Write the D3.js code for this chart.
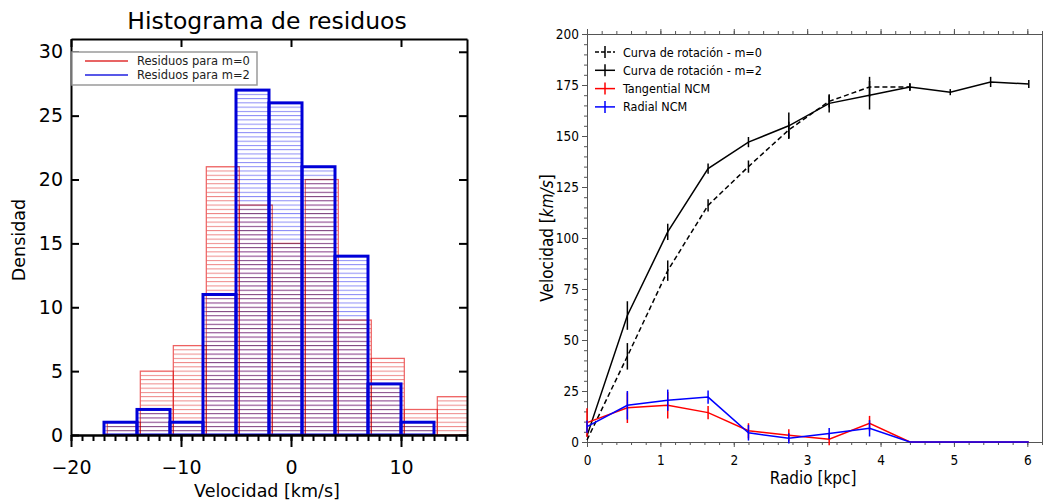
<!DOCTYPE html>
<html>
<head>
<meta charset="utf-8">
<script src="https://cdn.jsdelivr.net/npm/d3@7"></script>
<style>
body { margin: 0; background: #fff; }
</style>
</head>
<body>
<div id="chart"></div>
<script>
// --- histograma de residuos (izquierda) ---
var binLeftM0 = [-16.7, -13.7, -10.7, -7.7, -4.7, -1.7, 1.3, 4.3, 7.3, 10.3, 13.3];
var countM0 = [1, 5, 7, 21, 18, 15, 20, 9, 6, 2, 3];
var binLeftM2 = [-17, -14, -11, -8, -5, -2, 1, 4, 7, 10];
var countM2 = [1, 2, 1, 11, 27, 26, 21, 14, 4, 1];
var binWidth = 3;
var histLegend = ["Residuos para m=0", "Residuos para m=2"];
var histTicksX = [-20, -10, 0, 10];
var histTicksY = [0, 5, 10, 15, 20, 25, 30];

// --- curva de rotación (derecha) ---
var radioM0 = [0, 0.55, 1.1, 1.65, 2.2, 2.75, 3.3, 3.85, 4.4];
var velM0 = [1, 42, 84, 116, 135, 153, 167, 174, 174];
var errM0 = [0, 6.5, 5, 3, 3, 4, 3, 5, 1.5];
var radio = [0, 0.55, 1.1, 1.65, 2.2, 2.75, 3.3, 3.85, 4.4, 4.95, 5.5, 6.02];
var velM2 = [3, 62, 103, 134, 147, 155, 166, 170, 174, 171.5, 176.5, 175.5];
var errM2 = [0, 7, 4, 2.5, 2.5, 6.5, 4.5, 7, 2, 1.5, 2.5, 2];
var velTan = [9.5, 16.8, 18, 14.4, 5.5, 3.3, 1.4, 9.2, 0, 0, 0, 0];
var errTan = [7, 7.5, 6.5, 3.3, 3.7, 3, 3, 3.6, 0, 0, 0, 0];
var velRad = [7.5, 18, 20.5, 22, 4.5, 1.8, 4.2, 6.7, 0, 0, 0, 0];
var errRad = [3, 7, 5.2, 3.3, 3.8, 2.5, 2.7, 4, 0, 0, 0, 0];
var rotLegend = ["Curva de rotación - m=0", "Curva de rotación - m=2", "Tangential NCM", "Radial NCM"];
var rotTicksX = [0, 1, 2, 3, 4, 5, 6];
var rotTicksY = [0, 25, 50, 75, 100, 125, 150, 175, 200];

var width = 1043, height = 503;

var svg = d3.select("#chart").append("svg")
    .attr("width", width)
    .attr("height", height)
    .style("display", "block");

var idlFont = "DejaVu Sans";
var mplFont = "'DejaVu Sans Condensed', 'DejaVu Sans'";

// ================= left: histogram =================
var xH = d3.scaleLinear().domain([-20, 16]).range([71, 467]);
var yH = d3.scaleLinear().domain([0, 31]).range([435, 39]);

var defs = svg.append("defs");
var step = (yH(0) - yH(1)) / 3;

function hatch(id, color) {
  var p = defs.append("pattern")
      .attr("id", id)
      .attr("patternUnits", "userSpaceOnUse")
      .attr("x", 0).attr("y", yH(0) - 0.5)
      .attr("width", 10).attr("height", step);
  p.append("line")
      .attr("x1", 0).attr("x2", 10)
      .attr("y1", 0.5).attr("y2", 0.5)
      .attr("stroke", color)
      .attr("stroke-width", 1);
}
hatch("hatchRed", "#ee8686");
hatch("hatchBlue", "#8a8af6");

defs.append("clipPath").attr("id", "histClip")
  .append("rect")
    .attr("x", xH(-20)).attr("y", yH(31))
    .attr("width", xH(16) - xH(-20)).attr("height", yH(0) - yH(31));

var gH = svg.append("g").attr("clip-path", "url(#histClip)");

var m0 = binLeftM0.map(function(d, i) { return {x: d, n: countM0[i]}; });
var m2 = binLeftM2.map(function(d, i) { return {x: d, n: countM2[i]}; });

gH.selectAll(".hb").data(m2).enter().append("rect")
    .attr("class", "hb")
    .attr("x", function(d) { return xH(d.x); })
    .attr("y", function(d) { return yH(d.n); })
    .attr("width", function(d) { return xH(d.x + binWidth) - xH(d.x); })
    .attr("height", function(d) { return yH(0) - yH(d.n); })
    .attr("fill", "url(#hatchBlue)");

gH.selectAll(".hr").data(m0).enter().append("rect")
    .attr("class", "hr")
    .attr("x", function(d) { return xH(d.x); })
    .attr("y", function(d) { return yH(d.n); })
    .attr("width", function(d) { return xH(d.x + binWidth) - xH(d.x); })
    .attr("height", function(d) { return yH(0) - yH(d.n); })
    .attr("fill", "url(#hatchRed)")
    .style("mix-blend-mode", "multiply")
    .attr("stroke", "#ee6060")
    .attr("stroke-width", 1.2);

gH.selectAll(".hbo").data(m2).enter().append("rect")
    .attr("class", "hbo")
    .attr("x", function(d) { return xH(d.x); })
    .attr("y", function(d) { return yH(d.n); })
    .attr("width", function(d) { return xH(d.x + binWidth) - xH(d.x); })
    .attr("height", function(d) { return yH(0) - yH(d.n); })
    .attr("fill", "none")
    .attr("stroke", "#0000d8")
    .attr("stroke-width", 3);

function styleAxis(g, w, fs, font) {
  g.select(".domain").attr("stroke", "#000").attr("stroke-width", w);
  g.selectAll(".tick line").attr("stroke", "#000").attr("stroke-width", w);
  g.selectAll("text").attr("fill", "#000").attr("font-size", fs).attr("font-family", font);
}

svg.append("g").attr("transform", "translate(0," + yH(0) + ")")
    .call(d3.axisBottom(xH).tickValues(d3.range(-20, 17)).tickSize(6).tickSizeOuter(0).tickFormat(""))
    .call(function(g) { styleAxis(g, 2, 19, idlFont); });
svg.append("g").attr("transform", "translate(0," + yH(0) + ")")
    .call(d3.axisBottom(xH).tickValues(histTicksX).tickSize(12).tickSizeOuter(0).tickPadding(14))
    .call(function(g) { styleAxis(g, 2, 19, idlFont); });
svg.append("g").attr("transform", "translate(" + xH(-20) + ",0)")
    .call(d3.axisLeft(yH).tickValues(histTicksY).tickSize(-8).tickSizeOuter(0).tickPadding(8))
    .call(function(g) { styleAxis(g, 2, 19, idlFont); });
svg.append("g").attr("transform", "translate(" + xH(16) + ",0)")
    .call(d3.axisRight(yH).tickValues(histTicksY).tickSize(-8).tickSizeOuter(0).tickFormat(""))
    .call(function(g) { styleAxis(g, 2, 19, idlFont); });
svg.append("g").attr("transform", "translate(0," + yH(31) + ")")
    .call(d3.axisTop(xH).tickValues(histTicksX).tickSize(-8).tickSizeOuter(0).tickFormat(""))
    .call(function(g) { styleAxis(g, 2, 19, idlFont); });

// legend
svg.append("rect")
    .attr("x", 72).attr("y", 52).attr("width", 185).attr("height", 33)
    .attr("fill", "#fff").attr("stroke", "#9a9a9a").attr("stroke-width", 1.5);
var histColors = ["#e03030", "#2020e0"];
histLegend.forEach(function(t, i) {
  var yy = 61 + i * 14;
  svg.append("line").attr("x1", 85).attr("x2", 128).attr("y1", yy).attr("y2", yy)
      .attr("stroke", histColors[i]).attr("stroke-width", 1.3);
  svg.append("text").attr("x", 137).attr("y", yy + 4)
      .attr("font-family", idlFont).attr("font-size", 11.5)
      .attr("fill", "#222")
      .text(t);
});

svg.append("text")
    .attr("x", 267).attr("y", 29)
    .attr("text-anchor", "middle")
    .attr("font-family", idlFont).attr("font-size", 23.5)
    .text("Histograma de residuos");
svg.append("text")
    .attr("x", 267).attr("y", 497)
    .attr("text-anchor", "middle")
    .attr("font-family", idlFont).attr("font-size", 17.5)
    .text("Velocidad [km/s]");
svg.append("text")
    .attr("transform", "translate(25,240) rotate(-90)")
    .attr("text-anchor", "middle")
    .attr("font-family", idlFont).attr("font-size", 17.5)
    .text("Densidad");

// ================= right: rotation curve =================
var xR = d3.scaleLinear().domain([0, 6.2]).range([587, 1042]);
var yR = d3.scaleLinear().domain([0, 200]).range([442, 34]);

function styleR(g) {
  g.select(".domain").attr("stroke", "#555").attr("stroke-width", 1);
  g.selectAll(".tick line").attr("stroke", "#555").attr("stroke-width", 1);
  g.selectAll("text").attr("fill", "#000").attr("font-size", 13.5).attr("font-family", mplFont);
}

svg.append("g").attr("transform", "translate(0," + yR(0) + ")")
    .call(d3.axisBottom(xR).tickValues(d3.range(0, 6.21, 0.2)).tickSize(3).tickSizeOuter(0).tickFormat(""))
    .call(styleR);
svg.append("g").attr("transform", "translate(0," + yR(0) + ")")
    .call(d3.axisBottom(xR).tickValues(rotTicksX).tickSize(5).tickSizeOuter(0).tickPadding(8)
      .tickFormat(d3.format("d")))
    .call(styleR);
svg.append("g").attr("transform", "translate(0," + yR(200) + ")")
    .call(d3.axisTop(xR).tickValues(d3.range(0, 6.21, 0.2)).tickSize(3).tickSizeOuter(0).tickFormat(""))
    .call(styleR);
svg.append("g").attr("transform", "translate(0," + yR(200) + ")")
    .call(d3.axisTop(xR).tickValues(rotTicksX).tickSize(5).tickSizeOuter(0).tickFormat(""))
    .call(styleR);
svg.append("g").attr("transform", "translate(" + xR(0) + ",0)")
    .call(d3.axisLeft(yR).tickValues(d3.range(0, 201, 5)).tickSize(3).tickSizeOuter(0).tickFormat(""))
    .call(styleR);
svg.append("g").attr("transform", "translate(" + xR(0) + ",0)")
    .call(d3.axisLeft(yR).tickValues(rotTicksY).tickSize(5).tickSizeOuter(0).tickPadding(3)
      .tickFormat(d3.format("d")))
    .call(styleR);
svg.append("g").attr("transform", "translate(" + xR(6.2) + ",0)")
    .call(d3.axisRight(yR).tickValues(d3.range(0, 201, 5)).tickSize(3).tickSizeOuter(0).tickFormat(""))
    .call(styleR);

var line = d3.line()
    .x(function(d) { return xR(d.r); })
    .y(function(d) { return yR(d.v); });

function series(rs, vs, es, color, dash) {
  var pts = rs.map(function(r, i) { return {r: r, v: vs[i], e: es[i]}; });
  svg.append("path").datum(pts)
      .attr("d", line)
      .attr("fill", "none")
      .attr("stroke", color)
      .attr("stroke-width", 1.5)
      .attr("stroke-dasharray", dash);
  svg.append("g").selectAll("line").data(pts.filter(function(d) { return d.e > 0; }))
    .enter().append("line")
      .attr("x1", function(d) { return xR(d.r); })
      .attr("x2", function(d) { return xR(d.r); })
      .attr("y1", function(d) { return yR(d.v - d.e); })
      .attr("y2", function(d) { return yR(d.v + d.e); })
      .attr("stroke", color)
      .attr("stroke-width", 1.5);
}

series(radioM0, velM0, errM0, "#000", "5,3");
series(radio, velM2, errM2, "#000", null);
series(radio, velTan, errTan, "#ff0000", null);
series(radio, velRad, errRad, "#0000ff", null);

var rotColors = ["#000", "#000", "#ff0000", "#0000ff"];
var rotDash = ["4,2", null, null, null];
rotLegend.forEach(function(t, i) {
  var yy = 52 + i * 18.3;
  svg.append("line").attr("x1", 595).attr("x2", 615).attr("y1", yy).attr("y2", yy)
      .attr("stroke", rotColors[i]).attr("stroke-width", 1.5)
      .attr("stroke-dasharray", rotDash[i]);
  svg.append("line").attr("x1", 605).attr("x2", 605).attr("y1", yy - 6).attr("y2", yy + 6)
      .attr("stroke", rotColors[i]).attr("stroke-width", 1.5);
  svg.append("text").attr("x", 623).attr("y", yy + 4.5)
      .attr("font-family", mplFont).attr("font-size", 12.5)
      .text(t);
});

svg.append("text")
    .attr("x", 813).attr("y", 484)
    .attr("text-anchor", "middle")
    .attr("font-family", mplFont).attr("font-size", 17)
    .text("Radio [kpc]");
var yl = svg.append("text")
    .attr("transform", "translate(553,238) rotate(-90)")
    .attr("text-anchor", "middle")
    .attr("font-family", mplFont).attr("font-size", 17);
yl.append("tspan").text("Velocidad [");
yl.append("tspan").attr("font-style", "italic").text("km/s");
yl.append("tspan").text("]");
</script>
</body>
</html>
